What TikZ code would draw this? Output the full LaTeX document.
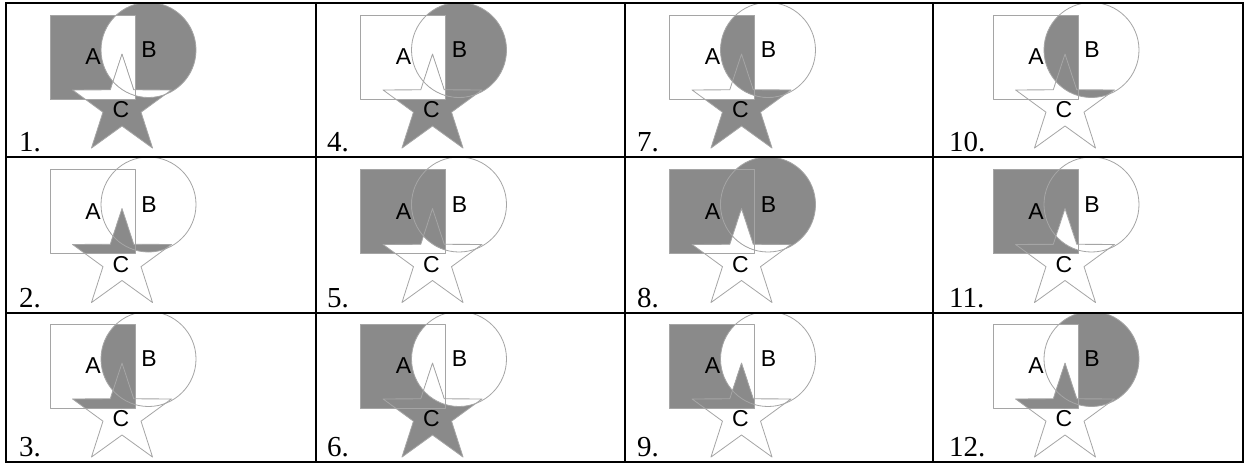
\documentclass[tikz,border=0pt]{standalone}
\usepackage{fontspec}
\setmainfont{Liberation Serif}
\newfontfamily\letfont{Liberation Sans}
\definecolor{shadegray}{RGB}{138,138,138}
\definecolor{outlinegray}{RGB}{165,165,165}
\newcommand\pA{(0,0) rectangle (85,84)}
\newcommand\pB{(98.5,35) circle[radius=47.5]}
\newcommand\pC{(72,39) -- (60.24,74.82) -- (22.54,74.93) -- (52.98,97.18) -- (41.44,133.07) -- (72,111) -- (102.56,133.07) -- (91.02,97.18) -- (121.46,74.93) -- (83.76,74.82) -- cycle}
\newcommand\pBig{(-80,-80) rectangle (300,250)}
\newcommand\RgABC{\begin{scope}\clip\pA;\clip\pB;\fill[shd]\pC;\end{scope}}
\newcommand\RgAB{\begin{scope}\clip\pA;\clip\pB;\fill[shd,even odd rule]\pBig\pC;\end{scope}}
\newcommand\RgAC{\begin{scope}\clip\pA;\clip\pC;\fill[shd,even odd rule]\pBig\pB;\end{scope}}
\newcommand\RgBC{\begin{scope}\clip\pB;\clip\pC;\fill[shd,even odd rule]\pBig\pA;\end{scope}}
\newcommand\RgA{\begin{scope}\clip\pA;\fill[shd,even odd rule]\pBig\pB\pC;\end{scope}}
\newcommand\RgB{\begin{scope}\clip\pB;\fill[shd,even odd rule]\pBig\pA\pC;\end{scope}}
\newcommand\RgC{\begin{scope}\clip\pC;\fill[shd,even odd rule]\pBig\pA\pB;\end{scope}}
\newcommand\WhABC{\begin{scope}\clip\pA;\clip\pB;\fill[white]\pC;\end{scope}}
% #1 x0, #2 y0, #3 x1, #4 y1, #5 shape x, #6 shape y, #7 regions, #8 number, #9 number x
\newcommand\venncell[9]{%
  \begin{scope}
    \clip (#1,#2) rectangle (#3,#4);
    \begin{scope}[shift={(#5,#6)}]
      #7
      \draw[outl] \pA;
      \draw[outl] \pB;
      \draw[outl] \pC;
      \node[lab] (A#8) at (43,42) {A};
      \node[lab] (B#8) at (99,35) {B};
      \node[lab] (C#8) at (71,95) {C};
    \end{scope}
  \end{scope}
  \node[num] (n#8) at (#9,#4-6) {#8.};
}
\begin{document}
\begin{tikzpicture}[x=1pt,y=-1pt,
  shd/.style={fill=shadegray},
  outl/.style={draw=outlinegray,line width=0.8pt,line join=round},
  lab/.style={inner sep=0pt,font=\letfont\fontsize{23}{23}\selectfont},
  num/.style={inner sep=0pt,anchor=base west,font=\fontsize{29}{29}\selectfont},
  grid/.style={line width=1.6pt,black}]
\useasboundingbox (0,0) rectangle (1251,464);
\fill[white] (0,0) rectangle (1251,464);
% column 1
\venncell{6}{3}{316}{157}{50}{15}{\RgA\RgB\RgC\WhABC}{1}{19}
\venncell{6}{157}{316}{313}{50}{169.5}{\RgAC\RgBC\RgABC}{2}{19}
\venncell{6}{313}{316}{462}{50}{324}{\RgAB\RgAC\RgABC}{3}{19}
% column 2
\venncell{316}{3}{625}{157}{360.5}{15}{\RgB\RgC\RgBC\WhABC}{4}{327}
\venncell{316}{157}{625}{313}{360.5}{169.5}{\RgA\RgAB\RgABC}{5}{327}
\venncell{316}{313}{625}{462}{360.5}{324}{\RgA\RgC\RgAC\WhABC}{6}{327}
% column 3
\venncell{625}{3}{933}{157}{669.5}{15}{\RgAB\RgABC\RgC\RgBC}{7}{637}
\venncell{625}{157}{933}{313}{669.5}{169.5}{\RgA\RgB\RgAB\WhABC}{8}{637}
\venncell{625}{313}{933}{462}{669.5}{324}{\RgA\RgAC\RgABC}{9}{637}
% column 4
\venncell{933}{3}{1243}{157}{993}{15}{\RgAB\RgBC\RgABC}{10}{949}
\venncell{933}{157}{1243}{313}{993}{169.5}{\RgA\RgAB\RgAC\WhABC}{11}{949}
\venncell{933}{313}{1243}{462}{993}{324}{\RgB\RgBC\RgAC\RgABC}{12}{949}
% grid
\coordinate (g00) at (6,3);
\coordinate (g11) at (1243,462);
\draw[grid] (g00) rectangle (g11);
\coordinate (v1t) at (316,3); \coordinate (v1b) at (316,462);
\coordinate (v2t) at (625,3); \coordinate (v2b) at (625,462);
\coordinate (v3t) at (933,3); \coordinate (v3b) at (933,462);
\coordinate (h1l) at (6,157); \coordinate (h1r) at (1243,157);
\coordinate (h2l) at (6,313); \coordinate (h2r) at (1243,313);
\draw[grid] (v1t) -- (v1b);
\draw[grid] (v2t) -- (v2b);
\draw[grid] (v3t) -- (v3b);
\draw[grid] (h1l) -- (h1r);
\draw[grid] (h2l) -- (h2r);
\end{tikzpicture}
\end{document}
